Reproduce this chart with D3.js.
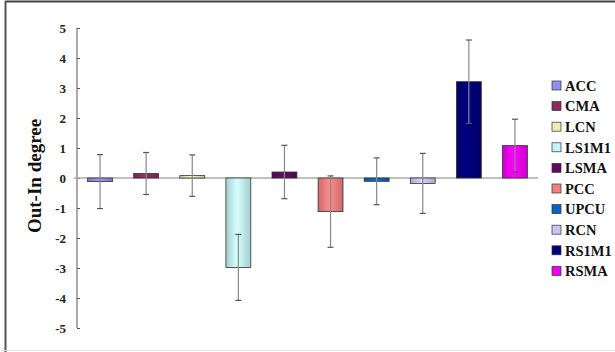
<!DOCTYPE html>
<html><head><meta charset="utf-8">
<script src="https://cdn.jsdelivr.net/npm/d3@7"></script>
<style>body{margin:0;background:#fff}svg{display:block}</style>
</head><body>
<script>
const categories = ["ACC","CMA","LCN","LS1M1","LSMA","PCC","UPCU","RCN","RS1M1","RSMA"];
const values = [-0.12, 0.15, 0.08, -2.98, 0.2, -1.12, -0.11, -0.18, 3.21, 1.08];
const errors = [0.9, 0.7, 0.69, 1.1, 0.89, 1.19, 0.78, 1.0, 1.39, 0.88];
const colors = ["#8f8ff0","#8c2a5a","#ececb8","#c4f6f6","#5c0a5c","#f47f7f","#0c62c4","#c6c6f2","#000078","#f000f0"];
const yTicks = [5,4,3,2,1,0,-1,-2,-3,-4,-5];

const W=615,H=352;
const svg=d3.select("body").append("svg").attr("width",W).attr("height",H);
const defs=svg.append("defs");
// frame
svg.append("line").attr("x1",5).attr("x2",W).attr("y1",1.5).attr("y2",1.5).attr("stroke","#444").attr("stroke-width",2);
svg.append("line").attr("x1",5.5).attr("x2",5.5).attr("y1",1).attr("y2",H).attr("stroke","#555").attr("stroke-width",2);
svg.append("line").attr("x1",5).attr("x2",W).attr("y1",350.5).attr("y2",350.5).attr("stroke","#e6e6e6").attr("stroke-width",1);

const x=d3.scaleBand().domain(categories).range([77,538]).paddingInner(0.46).paddingOuter(0.23);
const y=d3.scaleLinear().domain([-5,5]).range([328,28]);

// gradients
colors.forEach((c,i)=>{
  const g=defs.append("linearGradient").attr("id","g"+i).attr("x1","0").attr("x2","1").attr("y1","0").attr("y2","0");
  const dark=d3.color(c).darker(0.5), light=d3.color(c).brighter(0.25);
  g.append("stop").attr("offset","0%").attr("stop-color",dark);
  g.append("stop").attr("offset","45%").attr("stop-color",light);
  g.append("stop").attr("offset","100%").attr("stop-color",dark);
});

// y axis
const ax=svg.append("g").attr("transform","translate(77,0)")
  .call(d3.axisRight(y).tickValues(yTicks).tickSize(3).tickFormat(""));
ax.select(".domain").attr("stroke","#555").attr("d","M0,28V328");
ax.selectAll(".tick line").attr("stroke","#555");
svg.append("g").selectAll("text").data(yTicks).join("text")
  .attr("x",66).attr("y",d=>y(d)).attr("dy","0.35em").attr("text-anchor","end")
  .attr("font-family","Liberation Serif, serif").attr("font-weight","bold").attr("font-size",13).attr("fill","#222")
  .text(d=>d);

// zero line
svg.append("line").attr("x1",74).attr("x2",538).attr("y1",y(0)).attr("y2",y(0)).attr("stroke","#aaa").attr("stroke-width",1.5);

// bars
svg.append("g").selectAll("rect").data(categories).join("rect")
  .attr("x",d=>x(d)).attr("width",x.bandwidth())
  .attr("y",(d,i)=>y(Math.max(0,values[i]))).attr("height",(d,i)=>Math.abs(y(values[i])-y(0)))
  .attr("fill",(d,i)=>`url(#g${i})`).attr("stroke","#333").attr("stroke-width",0.8);

// error bars
const eb=svg.append("g").attr("stroke","#888").attr("stroke-width",1.2);
categories.forEach((c,i)=>{
  const cx=x(c)+x.bandwidth()/2;
  const t=y(values[i]+errors[i]), b=y(values[i]-errors[i]);
  eb.append("line").attr("x1",cx).attr("x2",cx).attr("y1",t).attr("y2",b);
  eb.append("line").attr("x1",cx-3).attr("x2",cx+3).attr("y1",t).attr("y2",t).attr("stroke","#555");
  eb.append("line").attr("x1",cx-3).attr("x2",cx+3).attr("y1",b).attr("y2",b).attr("stroke","#555");
});

// y title
svg.append("text").attr("transform","translate(41,176) rotate(-90)").attr("text-anchor","middle")
  .attr("font-family","Liberation Serif, serif").attr("font-weight","bold").attr("font-size",19).attr("fill","#111")
  .text("Out-In degree");

// legend
const lg=svg.append("g").selectAll("g").data(categories).join("g")
  .attr("transform",(d,i)=>`translate(552,${85.5+i*20.6})`);
lg.append("rect").attr("x",0).attr("y",-4.5).attr("width",9).attr("height",9)
  .attr("fill",(d,i)=>colors[i]).attr("stroke","#333").attr("stroke-width",0.7);
lg.append("text").attr("x",13).attr("y",0).attr("dy","0.36em")
  .attr("font-family","Liberation Serif, serif").attr("font-weight","bold").attr("font-size",14.5).attr("fill","#111")
  .text(d=>d);
</script>
</body></html>
